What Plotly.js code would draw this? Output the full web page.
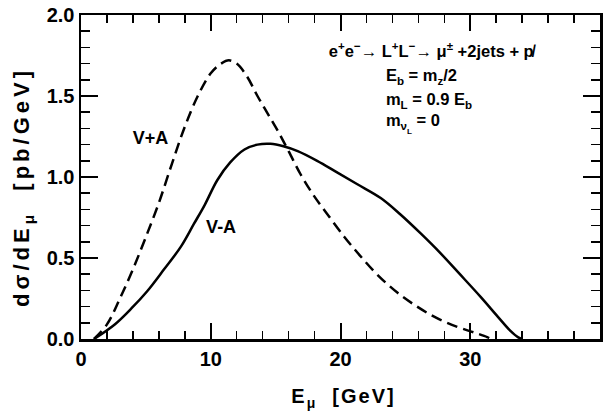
<!DOCTYPE html>
<html>
<head>
<meta charset="utf-8">
<script src="https://cdn.plot.ly/plotly-3.0.1.min.js"></script>
<style>
  html, body { margin: 0; padding: 0; background: #fff; }
  #chart { width: 611px; height: 413px; }
  .lbl { position: absolute; font-family: "Liberation Sans", Arial, sans-serif; font-weight: bold; color: #000;
         white-space: nowrap; line-height: 1; }
  .lbl sub, .lbl sup { font-size: 70%; line-height: 0; }
</style>
</head>
<body>
<div id="chart"></div>
<script>
// V+A coupling (dashed): E_mu [GeV] and d sigma / d E_mu [pb/GeV]
const xVplusA = [1.0, 2.0, 3.0, 4.0, 5.0, 6.0, 7.0, 8.0, 9.0, 10.0, 10.8, 11.4, 12.0, 12.8, 13.6, 14.4, 15.2, 16.0, 16.9, 17.9, 18.9, 20.3, 21.5, 22.8, 24.4, 25.9, 27.4, 29.0, 30.3, 31.3, 31.6];
const yVplusA = [0.0, 0.09, 0.25, 0.43, 0.63, 0.84, 1.08, 1.31, 1.50, 1.64, 1.70, 1.72, 1.70, 1.62, 1.50, 1.39, 1.28, 1.16, 1.02, 0.89, 0.78, 0.63, 0.515, 0.40, 0.285, 0.20, 0.13, 0.075, 0.04, 0.012, 0.0];
// V-A coupling (solid)
const xVminusA = [1.0, 2.6, 3.9, 5.1, 6.4, 7.7, 8.7, 9.55, 10.5, 11.5, 12.6, 13.6, 14.6, 15.6, 16.7, 18.2, 19.7, 21.3, 23.1, 24.6, 26.2, 27.7, 29.2, 30.8, 32.1, 33.1, 33.7, 34.0];
const yVminusA = [0.0, 0.09, 0.19, 0.295, 0.43, 0.57, 0.71, 0.83, 0.98, 1.09, 1.17, 1.20, 1.205, 1.19, 1.16, 1.10, 1.03, 0.955, 0.87, 0.77, 0.65, 0.53, 0.40, 0.26, 0.14, 0.05, 0.01, 0.0];

const curveLabels = ["V+A", "V-A"];
const infoLines = [
  "e<sup>+</sup>e<sup>−</sup>→ L<sup>+</sup>L<sup>−</sup>→ μ<sup>±</sup> +2jets + p̸",
  "E<sub>b</sub> = m<sub>z</sub>/2",
  "m<sub>L</sub> = 0.9 E<sub>b</sub>",
  "m<sub>ν<sub>L</sub></sub> = 0"
];
const xTitle = "E<sub>μ</sub>&nbsp; [GeV]";
const yTitle = "dσ/dE<sub>μ</sub>&nbsp; [pb/GeV]";

const FONT = "Liberation Sans, Arial, sans-serif";
const traces = [
  { x: xVplusA, y: yVplusA, type: "scatter", mode: "lines", line: { color: "#000", width: 2.5, dash: "11px,6px", shape: "spline", smoothing: 1 } },
  { x: xVminusA, y: yVminusA, type: "scatter", mode: "lines", line: { color: "#000", width: 2.5, shape: "spline", smoothing: 1 } }
];
const tickFont = { family: FONT, size: 20, color: "#000", weight: "bold" };
const layout = {
  width: 611, height: 413, margin: { l: 81, r: 11, t: 15, b: 74 },
  paper_bgcolor: "#fff", plot_bgcolor: "#fff", showlegend: false,
  xaxis: { range: [0, 40], tickmode: "linear", tick0: 0, dtick: 10, ticks: "inside", ticklen: 16, tickwidth: 2, tickcolor: "#000",
    minor: { tickmode: "linear", dtick: 2, ticks: "inside", ticklen: 8, tickwidth: 1.5, tickcolor: "#000", showgrid: false },
    showline: true, linewidth: 2.5, linecolor: "#000", mirror: "allticks", showgrid: false, zeroline: false, tickfont: tickFont },
  yaxis: { range: [0, 2], tickmode: "linear", tick0: 0, dtick: 0.5, tickformat: ".1f", ticks: "inside", ticklen: 17, tickwidth: 2, tickcolor: "#000",
    minor: { tickmode: "linear", dtick: 0.1, ticks: "inside", ticklen: 9, tickwidth: 1.5, tickcolor: "#000", showgrid: false },
    showline: true, linewidth: 2.5, linecolor: "#000", mirror: "allticks", showgrid: false, zeroline: false, tickfont: tickFont }
};

const labelSpecs = [
  { text: curveLabels[0], x: 5.35, y: 1.24, anchor: "center", size: 18 },
  { text: curveLabels[1], x: 10.8, y: 0.69, anchor: "center", size: 18 },
  { text: infoLines[0], x: 19.1, y: 1.78, anchor: "left", size: 16.5 },
  { text: infoLines[1], x: 23.5, y: 1.63, anchor: "left", size: 16.5 },
  { text: infoLines[2], x: 23.5, y: 1.48, anchor: "left", size: 16.5 },
  { text: infoLines[3], x: 23.5, y: 1.34, anchor: "left", size: 16.5 }
];

Plotly.newPlot("chart", traces, layout, { displayModeBar: false, staticPlot: true }).then(gd => {
  // touch the tick paths (same as the run where they were painted)
  const xt = gd.querySelectorAll("path.xtick");
  const yt = gd.querySelectorAll("path.ytick");
  [xt[0], xt[xt.length - 1], yt[0]].forEach(p => {
    if (!p) return;
    p.getBBox();
    const cs = getComputedStyle(p);
    void (cs.stroke + cs.strokeWidth + cs.opacity + cs.visibility + cs.display);
  });
  if (xt[0]) { const cs = getComputedStyle(xt[0].parentNode); void (cs.display + cs.opacity); }

  const xa = gd._fullLayout.xaxis, ya = gd._fullLayout.yaxis;
  const add = (html, left, top, size, transform, spacing) => {
    const el = document.createElement("div");
    el.className = "lbl";
    el.innerHTML = html;
    el.style.left = left + "px";
    el.style.top = top + "px";
    el.style.fontSize = size + "px";
    el.style.transform = transform;
    if (spacing) el.style.letterSpacing = spacing + "px";
    document.body.appendChild(el);
  };
  labelSpecs.forEach(s => {
    const px = xa._offset + xa.d2p(s.x);
    const py = ya._offset + ya.d2p(s.y);
    add(s.text, px, py, s.size, s.anchor === "center" ? "translate(-50%,-50%)" : "translate(0,-50%)");
  });
  add(xTitle, xa._offset + xa._length / 2 + 3, 396, 20, "translate(-50%,-50%)", 2);
  add(yTitle, 22, ya._offset + ya._length / 2 + 10, 22, "translate(-50%,-50%) rotate(-90deg)", 4);
});
</script>
</body>
</html>
